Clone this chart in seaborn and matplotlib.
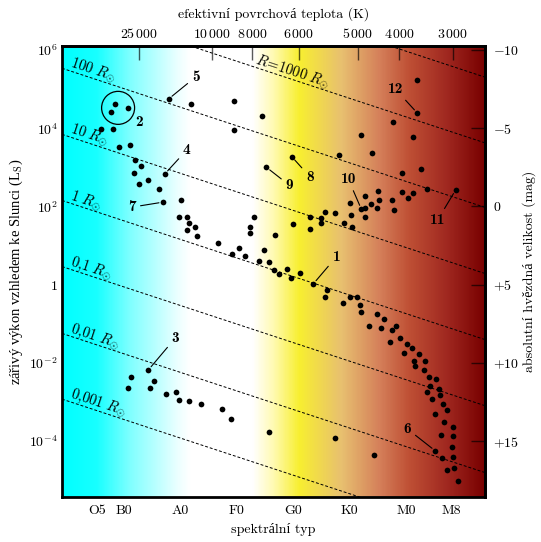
import numpy as np
import pandas as pd
import matplotlib
matplotlib.use("Agg")
import matplotlib.pyplot as plt
import seaborn as sns
from matplotlib.colors import LinearSegmentedColormap
from matplotlib.patches import Ellipse

# spectral type as a number: O0 = 0, B0 = 10, A0 = 20, ... M8 = 68
spec_ticks = [5.4, 10, 20, 30, 40, 50, 60, 68]
spec_labels = ["O5", "B0", "A0", "F0", "G0", "K0", "M0", "M8"]
temp_ticks = [12.7, 25.6, 32.8, 41.0, 51.5, 58.8, 68.3]
temp_labels = ["25\\,000", "10\\,000", "8\\,000", "6\\,000", "5\\,000", "4\\,000", "3\\,000"]
lum_ticks = [6, 4, 2, 0, -2, -4]
lum_labels = ["$10^{6}$", "$10^{4}$", "$10^{2}$", "$1$", "$10^{-2}$", "$10^{-4}$"]
mag_ticks = [-10, -5, 0, 5, 10, 15]
mag_labels = ["$-10$", "$-5$", "$0$", "$+5$", "$+10$", "$+15$"]

# stars (spectral number, log10 L/Lsun)
hot_s = [21.9, 29.5, 34.6, 29.5, 6.0, 8.1, 9.2, 11.2, 12.0, 13.0, 11.8, 12.7, 14.4, 16.2, 20.1,
         19.8, 21.3, 21.6, 22.7, 21.2, 23.0, 33.1, 32.3, 32.3, 36.8, 26.8, 29.2, 30.5, 31.5,
         34.9, 34.0, 35.8, 36.7, 37.5]
hot_l = [4.62, 4.70, 4.31, 3.95, 3.98, 3.98, 3.51, 3.57, 3.18, 3.03, 2.86, 2.58, 2.68, 2.45, 2.16,
         1.74, 1.72, 1.58, 1.47, 1.40, 1.24, 1.74, 1.47, 1.31, 1.28, 1.06, 0.78, 0.94, 0.73,
         0.88, 0.61, 0.58, 0.37, 0.26]
dwarf_s = [11.3, 15.4, 10.8, 14.6, 17.5, 19.2, 19.8, 21.5, 23.8, 27.5, 29.0, 35.7, 47.5, 54.3]
dwarf_l = [-2.36, -2.46, -2.64, -2.65, -2.80, -2.75, -2.95, -2.98, -3.06, -3.18, -3.44, -3.77, -3.92, -4.35]
cool_s = [61.9, 57.7, 52.0, 61.2, 48.2, 54.0, 59.3, 62.6, 63.8,
          50.1, 52.8, 55.0, 55.2, 53.8, 52.7, 54.9, 57.5, 59.3, 60.4, 61.3, 57.9, 50.3, 52.8,
          47.5, 45.7, 43.0, 45.0, 44.9, 49.1, 50.5, 40.0, 43.0]
cool_l = [5.24, 4.17, 3.83, 3.77, 3.31, 3.37, 2.85, 2.95, 2.45,
          2.09, 2.26, 2.40, 2.16, 2.07, 1.97, 1.96, 2.17, 2.38, 2.22, 2.34, 1.90, 1.79, 1.73,
          1.82, 1.86, 1.74, 1.71, 1.57, 1.58, 1.47, 1.54, 1.41]
ms_s = [39.0, 39.7, 41.2, 46.1, 45.7, 48.9, 50.1, 51.4, 51.8, 52.0, 54.8, 56.1, 53.5, 55.5,
        58.2, 57.6, 57.2, 58.9, 60.2, 61.0, 59.6, 62.3, 61.4, 61.6, 63.4, 63.2, 64.1, 65.4,
        64.3, 65.8, 63.8, 66.1, 64.7, 66.5, 67.2, 65.1, 66.8, 68.4, 66.2, 68.4, 68.2, 66.3,
        68.3, 68.5, 67.2, 69.2]
ms_l = [0.40, 0.16, 0.30, -0.14, -0.32, -0.48, -0.32, -0.32, -0.53, -0.71, -0.76, -0.87, -1.06, -1.12,
        -1.06, -1.17, -1.46, -1.37, -1.52, -1.61, -1.74, -1.77, -1.96, -2.08, -1.96, -2.19, -2.35, -2.42,
        -2.58, -2.66, -2.75, -2.81, -2.93, -3.06, -3.21, -3.31, -3.52, -3.63, -3.85, -3.87, -4.15, -4.44,
        -4.41, -4.69, -4.75, -5.03]

# numbered stars and where their labels sit (offset in pixels)
marked_names = ["1", "3", "4", "5", "6", "7", "8", "9", "10", "11", "12"]
marked_s = [43.6, 14.4, 17.3, 18.0, 65.2, 17.0, 39.8, 35.3, 52.1, 68.8, 62.0]
marked_l = [0.02, -2.18, 2.83, 4.75, -4.25, 2.11, 3.27, 3.00, 1.93, 2.42, 4.39]
marked_dx = [23, 27, 22, 27, -28, -31, 18, 23, -13, -18, -22]
marked_dy = [27, 32, 24, 22, 22, -5, -20, -18, 30, -30, 24]

# circled group "2"
group2_s = [8.5, 7.8, 10.8]
group2_l = [4.62, 4.42, 4.52]

# lines of constant radius: log L at spectral number 0, common slope
radius_names = [None, "$R\\!=\\!1000\\ R_{\\odot}$", "$100\\ R_{\\odot}$", "$10\\ R_{\\odot}$",
                "$1\\ R_{\\odot}$", "$0{,}1\\ R_{\\odot}$", "$0{,}01\\ R_{\\odot}$", "$0{,}001\\ R_{\\odot}$"]
radius_l0 = [8.82, 7.14, 5.49, 3.80, 2.11, 0.42, -1.29, -2.97]
radius_label_s = [None, 32.9, 0.2, 0.2, 0.2, 0.2, 0.2, 0.2]
radius_slope = -0.0475

bg_pos = [0, 0.08, 0.16, 0.27, 0.30, 0.45, 0.50, 0.56, 0.66, 0.75, 0.82, 0.91, 1.0]
bg_colors = ["#00ffff", "#18ffff", "#80ffff", "#eaffff", "#ffffff", "#ffffff", "#fffab0",
             "#f8ef30", "#e8c070", "#d5805a", "#bf5035", "#a02820", "#780000"]

sns.set_style("white")
plt.rcParams["font.family"] = ["cmr10", "Liberation Serif"]
plt.rcParams["mathtext.fontset"] = "cm"
plt.rcParams["axes.unicode_minus"] = False
plt.rcParams["font.size"] = 10
for key in ("text.color", "axes.labelcolor", "xtick.labelcolor", "ytick.labelcolor"):
    plt.rcParams[key] = "black"

xlim = (-0.9, 74.0)
ylim = (-5.43, 6.1)

fig = plt.figure(figsize=(5.41, 5.42), dpi=100)
ax = fig.add_axes([0.1146, 0.083, 0.7819, 0.832])
ax.set_xlim(*xlim)
ax.set_ylim(*ylim)

# background colour by temperature
cmap = LinearSegmentedColormap.from_list("hr", list(zip(bg_pos, bg_colors)))
ax.imshow(np.linspace(0, 1, 600)[None, :], cmap=cmap, aspect="auto",
          extent=(xlim[0], xlim[1], ylim[0], ylim[1]), zorder=0, interpolation="bilinear")

# constant radius lines
xs = np.array(xlim)
for l0 in radius_l0:
    ax.plot(xs, l0 + radius_slope * xs, color="black", lw=0.7, ls=(0, (3, 2)), zorder=1)

p = ax.transData.transform([(0, 0), (10, 10 * radius_slope)])
angle = np.degrees(np.arctan2(p[1, 1] - p[0, 1], p[1, 0] - p[0, 0]))
nx, ny = -np.sin(np.radians(angle)) * 4, np.cos(np.radians(angle)) * 4
for name, l0, s0 in zip(radius_names, radius_l0, radius_label_s):
    if name is None:
        continue
    ax.annotate(name, xy=(s0, l0 + radius_slope * s0), xytext=(nx, ny),
                textcoords="offset pixels", rotation=angle, rotation_mode="anchor",
                ha="left", va="baseline", fontsize=10.5, color="black", zorder=2)

stars = pd.DataFrame({
    "spectral": hot_s + dwarf_s + cool_s + ms_s + marked_s + group2_s,
    "log_lum": hot_l + dwarf_l + cool_l + ms_l + marked_l + group2_l,
})
sns.scatterplot(data=stars, x="spectral", y="log_lum", color="black", s=17,
                linewidth=0, ax=ax, zorder=3, legend=False)

# labels with leader lines
for name, s, l, dx, dy in zip(marked_names, marked_s, marked_l, marked_dx, marked_dy):
    ax.annotate(name, xy=(s, l), xytext=(dx, dy), textcoords="offset pixels",
                ha="center", va="center", fontsize=11, family="cmb10", color="black",
                arrowprops=dict(arrowstyle="-", color="black", lw=0.8, shrinkA=1, shrinkB=3))

cx, cy = np.mean(group2_s), np.mean(group2_l)
ax.add_patch(Ellipse((cx, cy), width=33 / 5.65, height=33 / 39.1, fill=False,
                     ec="black", lw=0.9, zorder=3))
ax.annotate("2", xy=(cx, cy), xytext=(21, -14), textcoords="offset pixels",
            ha="center", va="center", fontsize=11, family="cmb10", color="black")

tick_color = (0, 0, 0, 0.65)
ax.set_xticks(spec_ticks, spec_labels)
ax.set_yticks(lum_ticks, lum_labels)
ax.tick_params(axis="x", direction="in", length=10, width=1, color=tick_color, pad=6,
               labelsize=10, labelcolor="black")
ax.tick_params(axis="y", direction="in", length=10, width=1, color=tick_color, pad=3,
               labelsize=10, labelcolor="black")
ax.set_xlabel("spektrální typ", fontsize=10, labelpad=4)
ax.set_ylabel("zářivý výkon vzhledem ke Slunci (L$_\\mathrm{S}$)", fontsize=10.5,
              labelpad=3, family=["Liberation Serif"])

top = ax.secondary_xaxis("top", functions=(lambda x: x, lambda x: x))
top.set_xticks(temp_ticks, ["$" + t + "$" for t in temp_labels])
top.tick_params(direction="in", length=10, width=1, color=tick_color, pad=3.5,
                labelsize=10, labelcolor="black")
top.set_xlabel("efektivní povrchová teplota (K)", fontsize=10, labelpad=7)

right = ax.secondary_yaxis("right", functions=(lambda l: 5 - 2.5 * l, lambda m: (5 - m) / 2.5))
right.set_yticks(mag_ticks, mag_labels)
right.tick_params(direction="in", length=10, width=1, color=tick_color, pad=6,
                  labelsize=10, labelcolor="black")
right.set_ylabel("absolutní hvězdná velikost (mag)", fontsize=10, labelpad=2)

for a in (ax, top, right):
    for sp in a.spines.values():
        sp.set_linewidth(2)
        sp.set_color("black")

fig.savefig("out.png", dpi=100)
